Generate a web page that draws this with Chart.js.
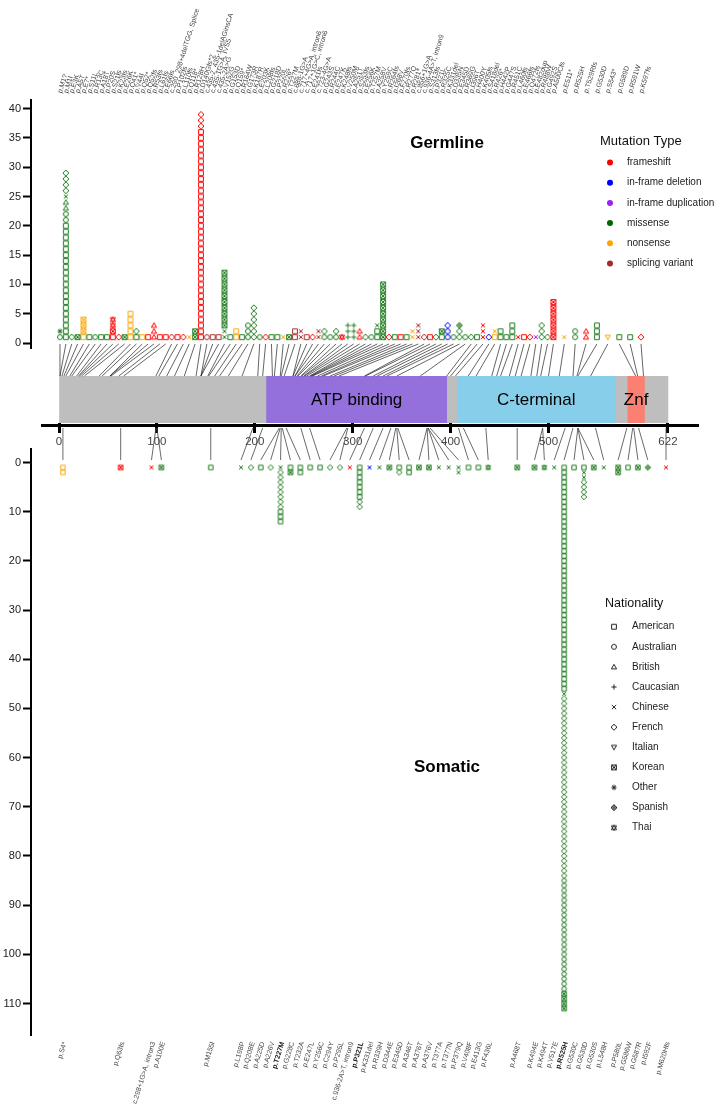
<!DOCTYPE html>
<html><head><meta charset="utf-8">
<script src="https://cdn.jsdelivr.net/npm/chart.js@4.4.1/dist/chart.umd.min.js"></script>
<style>
html,body{margin:0;padding:0;background:#fff;}
#wrap{position:relative;width:718px;height:1110px;overflow:hidden;background:#fff;}
canvas{position:absolute;left:0;}
</style></head><body>
<div id="wrap">
<canvas id="cg" width="718" height="360" style="top:0px"></canvas>
<canvas id="cs" width="718" height="670" style="top:440px"></canvas>
<canvas id="cd" width="718" height="130" style="top:340px"></canvas>
</div>
<script>
// ---------------- DATA ----------------
const proteinLength = 622;
const axisTicks = [0, 100, 200, 300, 400, 500, 622];
const germTicks = [0, 5, 10, 15, 20, 25, 30, 35, 40];
const somTicks = [0, 10, 20, 30, 40, 50, 60, 70, 80, 90, 100, 110];

const domainNames = ['ATP binding', 'C-terminal', 'Znf'];
const domainStart = [212, 407, 581];
const domainEnd = [396, 568, 598];

const typeCodes = ['fs', 'del', 'dup', 'mis', 'non', 'spl'];
const typeNames = ['frameshift', 'in-frame deletion', 'in-frame duplication', 'missense', 'nonsense', 'splicing variant'];

const natCodes = ['a', 'u', 'b', 'c', 'h', 'f', 'i', 'k', 'o', 's', 't'];
const natNames = ['American', 'Australian', 'British', 'Caucasian', 'Chinese', 'French', 'Italian', 'Korean', 'Other', 'Spanish', 'Thai'];

// Germline mutations (stack = nationality code + count, bottom to top)
const germLabels = ['p.M1?','p.M1I','p.E3K','p.A5T','p.E7*','p.S11L','p.R13C','p.A18T','p.P20S','p.S21fs',
 'p.K23fs','p.E26K','p.Q41*','p.V44I','p.Q52*','p.Q52fs','p.R53fs','p.L61fs','p.E66fs','c.290_298+4delTGG, Splice',
 'p.P102fs','p.L110fs','p.Q118*','p.R128H','p.D140Gfs*2','c.435-2_435-1delAGinsCA','c.435-1G>A, IVS5','c.435-2A>G','p.V152G','p.G153D',
 'p.Q159*','p.R164W','p.G173R','p.K187R','p.E203K','p.L208fs','p.G218D','p.P220L','p.R226*','p.T227M',
 'c.688-1G>A','c.717+4G>A, intron6','c.717+1G>C, intron6','p.E241fs','c.723-4G>A','p.G243S','p.R244C','p.E247K','p.K248fs','p.V250M',
 'p.A251T','p.S253fs','p.E256K','p.T257M','p.A258V','p.Y259C','p.R264fs','p.I268V','p.F270fs','p.R277Q',
 'p.R281*','c.856+1G>A','c.936-4A>T, intron9','p.S313fs','p.P321L','p.R325C','p.K331del','p.D335N','p.E345D','p.R369G',
 'p.I396T','p.H400Y','p.K405fs','p.S418del','p.R426*','p.H442P','p.G447S','p.R451C','p.L460fs','p.E466fs',
 'p.Q472fs','p.E482dup','p.R488W','p.G492S','p.A500Cfs','p.E511*','p.R525H','p.T529Rfs','p.G530D','p.S543*',
 'p.G589D','p.R591W','p.K597fs'];
const germPos = [1,1,3,5,7,11,13,18,20,21,
 23,26,41,44,52,52,53,61,66,99,
 102,110,118,128,140,145,145,145,152,153,
 159,164,173,187,203,208,218,220,226,227,
 230,239,239,241,241,243,244,247,248,250,
 251,253,256,257,258,259,264,268,270,277,
 281,286,312,313,321,325,331,335,345,369,
 396,400,405,418,426,442,447,451,460,466,
 472,482,488,492,500,511,525,529,530,543,
 589,591,597];
const germType = ['mis','mis','mis','mis','non','mis','mis','mis','mis','fs',
 'fs','mis','non','mis','non','fs','fs','fs','fs','spl',
 'fs','fs','non','mis','fs','spl','spl','spl','mis','mis',
 'non','mis','mis','mis','mis','fs','mis','mis','non','mis',
 'spl','spl','spl','fs','spl','mis','mis','mis','fs','mis',
 'mis','fs','mis','mis','mis','mis','fs','mis','fs','mis',
 'non','spl','spl','fs','mis','mis','del','mis','mis','mis',
 'mis','mis','fs','del','non','mis','mis','mis','fs','fs',
 'fs','dup','mis','mis','fs','non','mis','fs','mis','non',
 'mis','mis','fs'];
const germStack = ['u1 o1','a20 u2 b2 h1 f4','f1','k1','a1 k3','a1','u1','a1','a1','a1 k1 t2',
 'f1','k1','a5','a1 f1','a1','a1','b3','a1','a1','f1',
 'a1','f1','h1','k2','a36 f3','u1','a1','a1','h2 k10','a1',
 'a2','a1','u3','f6','u1','f1','a1','a1','h1','k1',
 'a2','h2','a1','f1','h2','u1 f1','u1','u1 f1','t1','c3',
 'c3','b2','f1','u1','a2 h1','k10','f1','a1','a1','a1',
 'h2','h3','f1','a1','f1','a1 k1','u2 f1','u1','f2 s1','u1',
 'f1','a1','h3','f1','a1 h1','a2','a1','a3','h1','a1',
 'f1','h1','f3','f1','k7','h1','u2','b2','a3','i1',
 'a1','a1','f1'];

// Somatic mutations
const somLabels = ['p.S4*','p.Q63fs','c.298+1G>A, intron3','p.A100E','p.M155I','p.L198P','p.Q208E','p.A225D','p.A226V','p.T227M',
 'p.G228C','p.T232A','p.E247L','p.Y256C','p.C294Y','p.P295L','c.936-2A>T, intron9','p.P321L','p.K331del','p.R339H',
 'p.D344E','p.E345D','p.A346T','p.A376T','p.A376V','p.T377A','p.T377N','p.P379Q','p.V408F','p.E413G',
 'p.F436L','p.A468T','p.K494E','p.K494T','p.V517E','p.R525H','p.G530C','p.G530D','p.G530S','p.L548H',
 'p.P580L','p.G586W','p.G587R','p.I592F','p.M620Hfs'];
const somPos = [4,63,99,100,155,198,208,225,226,227,
 228,232,247,256,294,295,312,321,331,339,
 344,345,346,376,376,377,377,379,408,413,
 436,468,494,494,517,525,530,530,530,548,
 580,586,587,592,620];
const somType = ['non','fs','fs','mis','mis','mis','mis','mis','mis','mis',
 'mis','mis','mis','mis','mis','mis','fs','mis','del','mis',
 'mis','mis','mis','mis','mis','mis','mis','mis','mis','mis',
 'mis','mis','mis','mis','mis','mis','mis','mis','mis','mis',
 'mis','mis','mis','mis','fs'];
const somStack = ['a2','k1','h1','k1','a1','h1','f1','a1','f1','h1 f8 a3',
 'a1 k1','a2','a1','a1','f1','f1','h1','a7 f2','h1','h1',
 'k1','a1 f1','a2','k1','k1','h1','h1','h2','a1','a1',
 't1','k1','k1','t1','h1','a46 h1 f37 u23 k4','a1','a1 h2 f4','k1','h1',
 'k2','a1','k1','s1','h1'];

// ---------------- STYLE / LAYOUT ----------------
const typeColors = {fs:'#FF0000', del:'#0000FF', dup:'#A020F0', mis:'#1E7B1E', non:'#FFA500', spl:'#A52A2A'};
const legendDotColors = {fs:'#FF0000', del:'#0000FF', dup:'#A020F0', mis:'#006400', non:'#FFA500', spl:'#A52A2A'};
const domainColors = ['#9370DB', '#87CEEB', '#FA8072'];
const proteinColor = '#BEBEBE';
const X_MIN = -28.6, X_MAX = 653.7;
const FONT = '"Liberation Sans", Arial, sans-serif';
Chart.defaults.font.family = FONT;

function parseStack(str) {
  const out = [];
  str.trim().split(/\s+/).forEach(tok => {
    const n = tok.length > 1 ? parseInt(tok.slice(1), 10) : 1;
    for (let j = 0; j < n; j++) out.push(tok[0]);
  });
  return out;
}

// label spreading: clusters of overlapping labels centred on their positions, clamped to [lo, hi]
function spread(pos, gapFn, lo, hi) {
  const n = pos.length;
  const off = [0];
  for (let i = 1; i < n; i++) off[i] = off[i - 1] + gapFn(i - 1);
  function place(c) {
    let sum = 0;
    for (let k = c.s; k <= c.e; k++) sum += pos[k] - (off[k] - off[c.s]);
    const span = off[c.e] - off[c.s];
    c.start = Math.max(lo, Math.min(hi - span, sum / (c.e - c.s + 1)));
  }
  const cl = [];
  for (let i = 0; i < n; i++) {
    const c = {s: i, e: i}; place(c); cl.push(c);
    while (cl.length > 1) {
      const b = cl[cl.length - 1], a = cl[cl.length - 2];
      const aEnd = a.start + off[a.e] - off[a.s];
      if (b.start < aEnd + gapFn(a.e)) { a.e = b.e; cl.pop(); place(a); } else break;
    }
  }
  const out = [];
  cl.forEach(c => { for (let k = c.s; k <= c.e; k++) out[k] = c.start + off[k] - off[c.s]; });
  return out;
}
const gX = spread(germPos, i => (germPos[i + 1] > 505 ? 11.1 : 6.0), 1, 594.5);
const sX = spread(somPos, () => 10.1, X_MIN, 622);

// marker sprites
const spriteCache = {};
function sprite(code, color, r, lw) {
  const key = code + color + r + lw;
  if (spriteCache[key]) return spriteCache[key];
  const s = 2 * Math.ceil(r) + 4;
  const c = document.createElement('canvas'); c.width = s; c.height = s;
  const g = c.getContext('2d');
  g.translate(s / 2, s / 2);
  g.strokeStyle = color; g.lineWidth = lw;
  const q = r * 0.92;
  const tri = d => { g.moveTo(0, -r * d); g.lineTo(r, r * 0.75 * d); g.lineTo(-r, r * 0.75 * d); g.closePath(); };
  const plus = () => { g.moveTo(-r, 0); g.lineTo(r, 0); g.moveTo(0, -r); g.lineTo(0, r); };
  const cross = m => { g.moveTo(-m, -m); g.lineTo(m, m); g.moveTo(m, -m); g.lineTo(-m, m); };
  const diamond = m => { g.moveTo(0, -m); g.lineTo(m, 0); g.lineTo(0, m); g.lineTo(-m, 0); g.closePath(); };
  g.beginPath();
  switch (code) {
    case 'a': g.rect(-q, -q, 2 * q, 2 * q); break;
    case 'u': g.arc(0, 0, r * 0.95, 0, Math.PI * 2); break;
    case 'b': tri(1); break;
    case 'c': plus(); break;
    case 'h': cross(q * 0.9); break;
    case 'f': diamond(r * 1.15); break;
    case 'i': tri(-1); break;
    case 'k': g.rect(-q, -q, 2 * q, 2 * q); cross(q); break;
    case 'o': plus(); cross(r * 0.72); break;
    case 's': diamond(r * 1.15); plus(); break;
    case 't': tri(1); tri(-1); break;
  }
  g.stroke();
  spriteCache[key] = c;
  return c;
}

function buildDatasets(stacks, xs, types, r) {
  return typeCodes.map((tc, ti) => {
    const data = [];
    stacks.forEach((st, i) => {
      if (types[i] !== tc) return;
      parseStack(st).forEach((code, lvl) => {
        data.push({x: xs[i], y: lvl + 1, img: sprite(code, typeColors[tc], r, 1)});
      });
    });
    return {label: typeNames[ti], data, pointStyle: c => (c.raw ? c.raw.img : 'circle'),
      pointRadius: 3, showLine: false, clip: false};
  });
}

const angle = -73 * Math.PI / 180;

// ---------------- GERMLINE ----------------
const germDecor = {
  id: 'germDecor',
  afterDraw(chart) {
    const ctx = chart.ctx, xs = chart.scales.x;
    ctx.save();
    ctx.fillStyle = '#444';
    ctx.font = '7px ' + FONT;
    ctx.textAlign = 'left'; ctx.textBaseline = 'middle';
    germLabels.forEach((lab, i) => {
      ctx.save();
      ctx.translate(xs.getPixelForValue(gX[i]), 93);
      ctx.rotate(angle);
      ctx.fillText(lab, 0, 0);
      ctx.restore();
    });
    ctx.fillStyle = '#000';
    ctx.font = 'bold 17px ' + FONT;
    ctx.textAlign = 'center';
    ctx.fillText('Germline', 447, 143);
    ctx.textAlign = 'left';
    ctx.font = '13px ' + FONT;
    ctx.fillStyle = '#111';
    ctx.fillText('Mutation Type', 600, 141);
    ctx.font = '10px ' + FONT;
    typeCodes.forEach((tc, k) => {
      const y = 162.5 + k * 20.2;
      ctx.beginPath(); ctx.fillStyle = legendDotColors[tc];
      ctx.arc(610, y, 3, 0, Math.PI * 2); ctx.fill();
      ctx.fillStyle = '#222';
      ctx.fillText(typeNames[k], 627, y);
    });
    ctx.restore();
  }
};

new Chart(document.getElementById('cg'), {
  type: 'scatter',
  data: {datasets: buildDatasets(germStack, gX, germType, 2.6)},
  options: {
    responsive: false, devicePixelRatio: 1, animation: false, events: [],
    layout: {padding: {top: 100, bottom: 12, left: 0, right: 19}},
    plugins: {legend: {display: false}, tooltip: {enabled: false}},
    scales: {
      x: {type: 'linear', min: X_MIN, max: X_MAX, display: false},
      y: {type: 'linear', min: -0.853, max: 41.47,
        afterBuildTicks: s => { s.ticks = germTicks.map(v => ({value: v})); },
        afterFit: s => { s.width = 31; },
        grid: {drawOnChartArea: false, drawTicks: true, tickLength: 8, tickWidth: 2, tickColor: '#000'},
        border: {display: true, color: '#000', width: 2},
        ticks: {font: {size: 11}, color: '#222', padding: 2}
      }
    }
  },
  plugins: [germDecor]
});

// ---------------- SOMATIC ----------------
const somDecor = {
  id: 'somDecor',
  afterDraw(chart) {
    const ctx = chart.ctx, xs = chart.scales.x;
    ctx.save();
    ctx.textAlign = 'right'; ctx.textBaseline = 'middle';
    somLabels.forEach((lab, i) => {
      const total = parseStack(somStack[i]).length;
      ctx.save();
      ctx.font = (total >= 8 ? 'bold ' : '') + '7px ' + FONT;
      ctx.fillStyle = total >= 8 ? '#222' : '#444';
      ctx.translate(xs.getPixelForValue(sX[i]) + 2, 602);
      ctx.rotate(angle);
      ctx.fillText(lab, 0, 0);
      ctx.restore();
    });
    ctx.fillStyle = '#000';
    ctx.font = 'bold 17px ' + FONT;
    ctx.textAlign = 'center';
    ctx.fillText('Somatic', 447, 327);
    ctx.textAlign = 'left';
    ctx.font = '12.5px ' + FONT;
    ctx.fillStyle = '#111';
    ctx.fillText('Nationality', 605, 164);
    ctx.font = '10px ' + FONT;
    natCodes.forEach((nc, k) => {
      const y = 186.7 + k * 20.1;
      const img = sprite(nc, '#222', 2.6, 1);
      ctx.drawImage(img, 614 - img.width / 2, y - img.height / 2);
      ctx.fillStyle = '#222';
      ctx.fillText(natNames[k], 632, y);
    });
    ctx.restore();
  }
};

new Chart(document.getElementById('cs'), {
  type: 'scatter',
  data: {datasets: buildDatasets(somStack, sX, somType, 2.4)},
  options: {
    responsive: false, devicePixelRatio: 1, animation: false, events: [],
    layout: {padding: {top: 7, bottom: 75, left: 0, right: 19}},
    plugins: {legend: {display: false}, tooltip: {enabled: false}},
    scales: {
      x: {type: 'linear', min: X_MIN, max: X_MAX, display: false},
      y: {type: 'linear', reverse: true, min: -2.84, max: 116.4,
        afterBuildTicks: s => { s.ticks = somTicks.map(v => ({value: v})); },
        afterFit: s => { s.width = 31; },
        grid: {drawOnChartArea: false, drawTicks: true, tickLength: 8, tickWidth: 2, tickColor: '#000'},
        border: {display: true, color: '#000', width: 2},
        ticks: {font: {size: 11}, color: '#222', padding: 2}
      }
    }
  },
  plugins: [somDecor]
});

// ---------------- DOMAIN BAR + CONNECTORS ----------------
const domainDecor = {
  id: 'domainDecor',
  afterDraw(chart) {
    const ctx = chart.ctx, xs = chart.scales.x, a = chart.chartArea;
    ctx.save();
    ctx.strokeStyle = '#222'; ctx.lineWidth = 0.7;
    ctx.beginPath();
    germPos.forEach((p, i) => {
      ctx.moveTo(xs.getPixelForValue(gX[i]), 4);
      ctx.lineTo(xs.getPixelForValue(p), a.top);
    });
    ctx.stroke();
    ctx.strokeStyle = '#444'; ctx.lineWidth = 0.8;
    ctx.beginPath();
    somPos.forEach((p, i) => {
      ctx.moveTo(xs.getPixelForValue(p), a.bottom + 5);
      ctx.lineTo(xs.getPixelForValue(sX[i]), 120);
    });
    ctx.stroke();
    ctx.strokeStyle = '#000'; ctx.lineWidth = 3;
    ctx.beginPath();
    ctx.moveTo(41, a.bottom + 2.5); ctx.lineTo(a.right, a.bottom + 2.5);
    ctx.stroke();
    ctx.fillStyle = '#000';
    ctx.font = '17px ' + FONT;
    ctx.textAlign = 'center'; ctx.textBaseline = 'middle';
    domainNames.forEach((nm, k) => {
      ctx.fillText(nm, xs.getPixelForValue((domainStart[k] + domainEnd[k]) / 2), (a.top + a.bottom) / 2 + 1);
    });
    ctx.restore();
  }
};

const domainDatasets = domainNames.map((nm, k) => ({
  label: nm, data: [[domainStart[k], domainEnd[k]]], backgroundColor: domainColors[k],
  barPercentage: 1, categoryPercentage: 1, grouped: false, borderWidth: 0
}));
domainDatasets.push({label: 'DDX41', data: [[0, proteinLength]], backgroundColor: proteinColor,
  barPercentage: 1, categoryPercentage: 1, grouped: false, borderWidth: 0});

new Chart(document.getElementById('cd'), {
  type: 'bar',
  data: {labels: ['DDX41'], datasets: domainDatasets},
  options: {
    indexAxis: 'y', responsive: false, devicePixelRatio: 1, animation: false, events: [],
    layout: {padding: {top: 36, left: 31, right: 19, bottom: 0}},
    plugins: {legend: {display: false}, tooltip: {enabled: false}},
    scales: {
      x: {type: 'linear', min: X_MIN, max: X_MAX,
        afterBuildTicks: s => { s.ticks = axisTicks.map(v => ({value: v})); },
        afterFit: s => { s.height = 47; },
        grid: {drawOnChartArea: false, drawTicks: true, tickLength: 10, tickWidth: 3, tickColor: '#000'},
        border: {display: false},
        ticks: {font: {size: 11.5}, color: '#444', padding: 2, autoSkip: false, maxRotation: 0}
      },
      y: {type: 'category', display: false, offset: true}
    }
  },
  plugins: [domainDecor]
});
</script>
</body></html>
